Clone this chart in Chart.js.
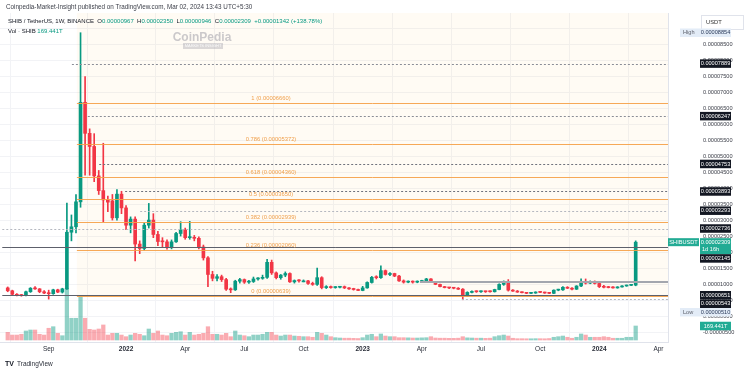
<!DOCTYPE html>
<html><head><meta charset="utf-8">
<script src="https://cdn.jsdelivr.net/npm/chart.js@4.4.1/dist/chart.umd.min.js"></script>
<style>html,body{margin:0;padding:0;background:#fff;}#wrap{width:750px;height:373px;position:relative;}</style>
</head><body><div id="wrap"><canvas id="c" width="750" height="373"></canvas></div>
<script>
// Prices are in units of 1e-6 USDT (0.00000870 -> 8.70); volumes in trillions (T)
const firstWeek = '2021-07-05';
const refWeek = '2022-01-03';
const opens = [
 8.8, 7.9, 6.8, 6.5, 6.4, 7.6, 8.7, 8.5, 7.6, 7.2,
 7.0, 8.2, 7.5, 8.5, 26.2, 27.9, 35.7, 66.8, 57.1, 53.0,
 43.8, 39.2, 36.3, 36.0, 30.7, 38.1, 33.8, 28.4, 30.3, 22.5,
 21.1, 28.4, 30.0, 25.5, 23.3, 23.2, 21.5, 23.2, 25.8, 26.9,
 24.5, 24.6, 24.3, 21.6, 18.2, 13.0, 11.8, 12.3, 11.4, 8.4,
 8.2, 10.9, 11.4, 10.6, 10.8, 11.6, 11.8, 12.1, 16.8, 13.5,
 12.0, 12.8, 13.3, 10.7, 11.1, 11.0, 11.0, 10.2, 9.9, 12.0,
 8.9, 9.1, 8.9, 9.0, 9.2, 8.8, 8.5, 8.3, 8.0, 8.8,
 10.5, 12.1, 12.0, 14.2, 13.0, 13.3, 12.5, 11.0, 10.6, 10.7,
 10.6, 10.8, 10.9, 11.6, 10.5, 9.9, 9.2, 8.9, 8.8, 8.7,
 8.4, 6.3, 7.4, 7.7, 7.6, 7.7, 7.7, 7.6, 8.3, 9.9,
 10.7, 8.1, 7.8, 7.5, 7.3, 7.1, 7.2, 7.5, 7.4, 7.2,
 7.1, 8.1, 8.2, 9.0, 8.7, 8.4, 9.4, 10.4, 10.3, 10.8,
 10.2, 9.2, 9.0, 8.9, 8.8, 9.1, 9.4, 9.6, 9.67
];
const highs = [
 9.1, 8.1, 7.0, 6.8, 7.8, 8.9, 9.2, 8.6, 8.0, 8.1,
 8.4, 8.4, 8.7, 35.3, 31.6, 38.0, 88.54, 74.8, 58.5, 57.0,
 45.5, 54.0, 37.5, 38.0, 39.5, 39.0, 34.5, 31.0, 31.0, 23.5,
 29.0, 35.2, 32.0, 26.5, 24.5, 23.8, 23.8, 26.2, 29.5, 27.5,
 29.6, 25.2, 24.8, 22.2, 18.6, 14.0, 13.0, 12.8, 11.8, 8.8,
 11.2, 11.8, 11.6, 11.2, 12.2, 12.0, 12.8, 17.7, 17.5, 13.8,
 13.0, 13.8, 13.5, 11.3, 11.4, 11.3, 11.2, 10.6, 15.0, 12.3,
 9.5, 9.4, 9.2, 9.3, 9.4, 8.9, 8.7, 8.4, 9.3, 10.7,
 12.4, 12.6, 15.7, 14.4, 13.6, 13.4, 12.7, 11.3, 11.0, 11.0,
 11.0, 11.2, 11.8, 11.7, 10.6, 10.0, 9.3, 9.0, 8.9, 8.9,
 8.6, 7.6, 7.9, 7.9, 7.9, 7.8, 7.9, 8.4, 10.1, 11.0,
 11.4, 8.3, 8.0, 7.6, 7.4, 7.3, 7.6, 7.6, 7.5, 7.4,
 8.2, 8.4, 9.2, 9.2, 8.9, 9.5, 11.6, 11.6, 11.0, 11.0,
 10.6, 9.6, 9.3, 9.2, 9.2, 9.5, 9.7, 9.8, 23.50
];
const lows = [
 7.6, 6.6, 6.3, 6.2, 6.3, 7.4, 8.3, 7.3, 7.0, 5.3,
 6.8, 7.3, 7.2, 8.3, 23.5, 26.0, 34.0, 44.0, 44.0, 42.0,
 38.0, 29.5, 32.6, 30.0, 30.0, 32.0, 27.0, 26.0, 17.2, 19.5,
 20.6, 27.5, 24.5, 22.0, 21.5, 20.9, 21.0, 23.0, 25.0, 24.0,
 24.0, 23.5, 21.0, 17.5, 9.2, 11.0, 11.0, 10.8, 8.0, 7.3,
 8.0, 10.3, 10.2, 10.2, 10.5, 11.2, 11.5, 11.8, 13.0, 11.6,
 11.5, 12.3, 10.5, 10.3, 10.6, 10.7, 9.9, 9.6, 9.6, 8.5,
 8.6, 8.7, 8.7, 8.8, 8.6, 8.3, 8.1, 7.9, 7.9, 8.7,
 10.3, 11.6, 11.8, 12.8, 12.6, 12.3, 10.8, 10.3, 10.4, 10.3,
 10.4, 10.6, 10.8, 10.4, 9.8, 9.1, 8.8, 8.6, 8.5, 8.3,
 5.10, 6.2, 7.2, 7.4, 7.4, 7.4, 7.5, 7.5, 8.2, 9.6,
 7.8, 7.7, 7.4, 7.2, 7.0, 7.0, 7.1, 7.3, 7.1, 7.0,
 7.0, 7.9, 8.0, 8.6, 8.2, 8.3, 9.2, 10.0, 10.1, 10.0,
 8.9, 8.8, 8.8, 8.7, 8.7, 9.0, 9.3, 9.5, 9.46
];
const closes = [
 7.9, 6.8, 6.5, 6.4, 7.6, 8.7, 8.5, 7.6, 7.2, 7.0,
 8.2, 7.5, 8.5, 26.2, 27.9, 35.7, 66.8, 57.1, 53.0, 43.8,
 39.2, 36.3, 35.6, 30.7, 38.1, 33.8, 28.4, 30.3, 22.5, 21.1,
 28.4, 30.0, 25.5, 23.3, 23.2, 21.5, 23.2, 25.8, 26.9, 24.5,
 24.6, 24.3, 21.6, 18.2, 13.0, 11.8, 12.3, 11.4, 8.4, 8.2,
 10.9, 11.4, 10.6, 10.8, 11.6, 11.8, 12.1, 16.8, 13.5, 12.0,
 12.8, 13.3, 10.7, 11.1, 11.0, 11.0, 10.2, 9.9, 12.0, 8.9,
 9.1, 8.9, 9.0, 9.2, 8.8, 8.5, 8.3, 8.0, 8.8, 10.5,
 12.1, 12.0, 14.2, 13.0, 13.3, 12.5, 11.0, 10.6, 10.7, 10.6,
 10.8, 10.9, 11.6, 10.5, 9.9, 9.2, 8.9, 8.8, 8.7, 8.4,
 6.3, 7.4, 7.7, 7.6, 7.7, 7.6, 7.6, 8.3, 9.9, 10.7,
 8.1, 7.8, 7.5, 7.3, 7.1, 7.2, 7.5, 7.4, 7.2, 7.1,
 8.1, 8.2, 9.0, 8.7, 8.4, 9.4, 10.4, 10.3, 10.8, 10.2,
 9.2, 9.0, 8.9, 8.8, 9.1, 9.4, 9.6, 9.67, 23.09
];
const volumes = [
 93, 60, 60, 69, 109, 121, 121, 69, 60, 142,
 161, 81, 52, 626, 263, 263, 524, 263, 129, 121,
 133, 182, 60, 81, 81, 60, 40, 60, 81, 69,
 52, 133, 81, 109, 60, 52, 81, 93, 100, 60,
 93, 60, 69, 81, 161, 69, 69, 60, 81, 40,
 109, 60, 52, 40, 60, 60, 69, 93, 93, 60,
 48, 60, 60, 48, 45, 40, 40, 33, 93, 81,
 60, 40, 28, 24, 22, 22, 20, 18, 28, 60,
 69, 40, 73, 48, 40, 40, 28, 28, 26, 24,
 24, 26, 28, 40, 24, 22, 22, 20, 20, 22,
 40, 26, 24, 22, 22, 20, 22, 40, 52, 60,
 48, 21, 16, 16, 15, 15, 16, 16, 15, 18,
 33, 40, 48, 33, 21, 33, 73, 60, 33, 33,
 33, 40, 33, 21, 21, 21, 33, 33, 169.441
];
const tickDates = ['2021-09-06','2022-01-03','2022-04-04','2022-07-04','2022-10-03','2023-01-02','2023-04-03','2023-07-03','2023-10-02','2024-01-01','2024-04-01'];
const tickLabels = ['Sep','2022','Apr','Jul','Oct','2023','Apr','Jul','Oct','2024','Apr'];
const fibRatios = ['1','0.786','0.618','0.5','0.382','0.236','0'];
const fibLevels = [66.60, 53.72, 43.60, 36.50, 29.39, 20.60, 6.39];
const markedPrices = [78.89, 62.47, 47.53, 38.93, 32.93, 27.36, 21.45, 6.51, 5.43];
const lastPrice = 23.09, allTimeHigh = 88.54, allTimeLow = 5.10, lastVolume = 169.441;

const UP = '#089981', DOWN = '#f23645';
const UPV = 'rgba(8,153,129,0.45)', DOWNV = 'rgba(242,54,69,0.42)';
const WEEK = 7 * 864e5;
const wk = d => Math.round((Date.parse(d) - Date.parse(refWeek)) / WEEK);
const x0 = wk(firstWeek);
const tickWeeks = tickDates.map(wk);
const fmt = v => (v * 1e-6).toFixed(8);
const FONT = "'Liberation Sans', Arial, sans-serif";
const isUp = i => closes[i] >= opens[i];

const bodies = opens.map((o, i) => ({x: x0 + i, y: [o, closes[i]]}));
const wicks = opens.map((o, i) => ({x: x0 + i, y: [lows[i], highs[i]]}));
const vols = volumes.map((v, i) => ({x: x0 + i, y: v}));

const overlay = {
  id: 'overlay',
  beforeDatasetsDraw(chart) {
    const {ctx, chartArea: a, scales: {x, y}} = chart;
    ctx.save();
    ctx.fillStyle = 'rgba(255,152,0,0.045)';
    const fx = x.getPixelForValue(-10.8);
    ctx.fillRect(fx, a.top, a.right - fx, y.getPixelForValue(fibLevels[6]) - a.top);
    ctx.restore();
  },
  afterDatasetsDraw(chart) {
    const {ctx, chartArea: a, scales: {x, y}} = chart;
    ctx.save();
    ctx.beginPath(); ctx.rect(a.left, a.top, a.right - a.left, a.bottom - a.top); ctx.clip();
    const hline = (v, fromW, color, w, dash) => {
      const py = Math.round(y.getPixelForValue(v)) + (w % 2 ? 0.5 : 0);
      ctx.strokeStyle = color; ctx.lineWidth = w; ctx.setLineDash(dash || []);
      ctx.beginPath(); ctx.moveTo(x.getPixelForValue(fromW), py); ctx.lineTo(a.right, py); ctx.stroke();
    };
    const rayStarts = [-11.9, -8.4, -5.9, -0.2, 3.1, -27.2];
    const rayColors = ['#8a8d96', '#8a8d96', '#6f727c', '#6f727c', '#b5b8c0', '#b5b8c0'];
    for (let i = 0; i < 6; i++) hline(markedPrices[i], rayStarts[i], rayColors[i], 1, [2, 2]);
    hline(markedPrices[6], -27.2, '#5d606b', 1);
    hline(markedPrices[7], -27.2, '#5d606b', 1);
    hline(10.5, 64.6, '#a3a6ae', 2);
    hline(markedPrices[8], 73.8, '#b5b8c0', 1, [2, 2]);
    const fx = x.getPixelForValue(-10.8);
    ctx.setLineDash([]);
    fibLevels.forEach((v, i) => {
      const py = Math.round(y.getPixelForValue(v)) + 0.5;
      ctx.strokeStyle = 'rgba(245,160,70,0.9)'; ctx.lineWidth = 1;
      ctx.beginPath(); ctx.moveTo(fx, py); ctx.lineTo(a.right, py); ctx.stroke();
      ctx.fillStyle = '#f0a04b'; ctx.font = '5.8px ' + FONT;
      ctx.textAlign = 'center'; ctx.textBaseline = 'middle';
      ctx.fillText(fibRatios[i] + ' (' + fmt(v) + ')', 271, py - 5.5);
    });
    ctx.restore();
  },
  afterDraw(chart) {
    const {ctx, chartArea: a, scales: {y, yv}} = chart;
    ctx.save();
    ctx.textBaseline = 'middle'; ctx.textAlign = 'left';
    ctx.font = '6.3px ' + FONT;
    ctx.fillStyle = '#3b3e48';
    ctx.fillText('Coinpedia-Market-Insight published on TradingView.com, Mar 02, 2024 13:43 UTC+5:30', 6, 7.5);
    ctx.font = '6px ' + FONT;
    let cx = 8;
    const seg = (t, c) => { ctx.fillStyle = c; ctx.fillText(t, cx, 21); cx += ctx.measureText(t).width; };
    seg('SHIB / TetherUS, 1W, BINANCE  ', '#131722');
    const i = opens.length - 1;
    seg('O', '#131722'); seg(fmt(opens[i]) + '  ', UP);
    seg('H', '#131722'); seg(fmt(highs[i]) + '  ', UP);
    seg('L', '#131722'); seg(fmt(lows[i]) + '  ', UP);
    seg('C', '#131722'); seg(fmt(closes[i]) + '  ', UP);
    seg('+' + fmt(closes[i] - opens[i]) + ' (+138.78%)', UP);
    ctx.fillStyle = '#131722'; ctx.fillText('Vol · SHIB', 8, 31);
    ctx.fillStyle = UP; ctx.fillText(lastVolume.toFixed(3) + 'T', 8 + ctx.measureText('Vol · SHIB ').width, 31);
    ctx.textAlign = 'center';
    ctx.font = 'bold 12px ' + FONT; ctx.fillStyle = 'rgba(140,140,150,0.45)';
    ctx.fillText('CoinPedia', 202, 38);
    ctx.fillStyle = 'rgba(150,150,160,0.35)'; ctx.fillRect(183, 43, 40, 6);
    ctx.font = '4px ' + FONT; ctx.fillStyle = 'rgba(255,255,255,0.9)';
    ctx.fillText('MARKETS INSIGHT', 203, 46.2);
    ctx.fillStyle = '#fff'; ctx.strokeStyle = '#e0e3eb'; ctx.lineWidth = 1;
    ctx.fillRect(701, 15, 42, 14); ctx.strokeRect(701.5, 15.5, 42, 14);
    ctx.fillStyle = '#333'; ctx.textAlign = 'left'; ctx.font = '5.8px ' + FONT;
    ctx.fillText('USDT', 706, 22.5);
    const H = 8.5;
    const labels = [];
    labels.push({y: y.getPixelForValue(allTimeHigh), h: H, kind: 'high', text: fmt(allTimeHigh)});
    for (let k = 0; k < 6; k++) labels.push({y: y.getPixelForValue(markedPrices[k]), h: H, kind: 'dark', text: fmt(markedPrices[k])});
    labels.push({y: y.getPixelForValue(lastPrice), h: 16, off: 4, kind: 'last', text: fmt(lastPrice)});
    labels.push({y: y.getPixelForValue(markedPrices[6]), h: H, kind: 'dark', text: fmt(markedPrices[6])});
    labels.push({y: y.getPixelForValue(markedPrices[7]), h: H, kind: 'dark', text: fmt(markedPrices[7])});
    labels.push({y: y.getPixelForValue(markedPrices[8]), h: H, kind: 'dark', text: fmt(markedPrices[8])});
    labels.push({y: y.getPixelForValue(allTimeLow), h: H, kind: 'low', text: fmt(allTimeLow)});
    labels.push({y: yv.getPixelForValue(lastVolume), h: H, kind: 'vol', text: lastVolume.toFixed(3) + 'T'});
    labels.sort((p, q) => p.y - q.y);
    let prevBottom = -1e9;
    labels.forEach(L => {
      let top = L.y - (L.off !== undefined ? L.off : L.h / 2);
      if (top < prevBottom) top = prevBottom;
      L.top = top; prevBottom = top + L.h;
    });
    ctx.font = '5.6px ' + FONT; ctx.textBaseline = 'middle';
    labels.forEach(L => {
      const mid = L.top + L.h / 2;
      if (L.kind === 'dark') {
        ctx.fillStyle = '#131722'; ctx.fillRect(700, L.top, 31, L.h);
        ctx.fillStyle = '#fff'; ctx.textAlign = 'center'; ctx.fillText(L.text, 715.5, mid);
      } else if (L.kind === 'high' || L.kind === 'low') {
        ctx.fillStyle = '#e3ecf7'; ctx.fillRect(680, L.top, 51, L.h);
        ctx.fillStyle = '#5d606b'; ctx.textAlign = 'left'; ctx.fillText(L.kind === 'high' ? 'High' : 'Low', 683, mid);
        ctx.fillStyle = '#2a3a5a'; ctx.textAlign = 'center'; ctx.fillText(L.text, 715.5, mid);
      } else if (L.kind === 'vol') {
        ctx.fillStyle = '#22ab94'; ctx.fillRect(700, L.top, 31, L.h);
        ctx.fillStyle = '#fff'; ctx.textAlign = 'center'; ctx.fillText(L.text, 715.5, mid);
      } else if (L.kind === 'last') {
        ctx.fillStyle = '#22ab94'; ctx.fillRect(700, L.top, 31, L.h); ctx.fillRect(668, L.top, 31, 8);
        ctx.fillStyle = '#fff'; ctx.textAlign = 'center';
        ctx.fillText('SHIBUSDT', 683.5, L.top + 4);
        ctx.fillText(L.text, 715.5, L.top + 4);
        ctx.textAlign = 'left'; ctx.fillText('1d 16h', 702, L.top + 11.5);
      }
    });
    ctx.fillStyle = '#131722'; ctx.textAlign = 'left'; ctx.textBaseline = 'middle';
    ctx.font = 'bold 7px ' + FONT; ctx.fillText('TV', 5, 364);
    ctx.font = '6.5px ' + FONT; ctx.fillStyle = '#2a2e39'; ctx.fillText('TradingView', 17, 364);
    ctx.restore();
  }
};

new Chart(document.getElementById('c'), {
  data: {
    datasets: [
      {type: 'bar', label: 'body', data: bodies, yAxisID: 'y', grouped: false, barThickness: 3, minBarLength: 1,
        backgroundColor: bodies.map((d, i) => isUp(i) ? UP : DOWN), borderWidth: 0},
      {type: 'bar', label: 'wick', data: wicks, yAxisID: 'y', grouped: false, barThickness: 1,
        backgroundColor: wicks.map((d, i) => isUp(i) ? UP : DOWN), borderWidth: 0},
      {type: 'bar', label: 'volume', data: vols, yAxisID: 'yv', grouped: false, barThickness: 3.6,
        backgroundColor: vols.map((d, i) => isUp(i) ? UPV : DOWNV), borderWidth: 0}
    ]
  },
  options: {
    responsive: false, animation: false, devicePixelRatio: 1,
    layout: {padding: {top: 13, left: 0, right: 0, bottom: 0}},
    plugins: {legend: {display: false}, tooltip: {enabled: false}},
    scales: {
      x: {
        type: 'linear', min: -27.7, max: 119.1, offset: false,
        afterBuildTicks: s => { s.ticks = tickWeeks.map(v => ({value: v})); },
        afterFit: s => { s.height = 31; s.paddingLeft = 0; s.paddingRight = 0; },
        grid: {color: '#f2f3f6', drawTicks: false, tickLength: 0},
        border: {color: '#e0e3eb'},
        ticks: {
          padding: 3, maxRotation: 0, autoSkip: false, color: '#2a2e39',
          font: c => ({family: FONT, size: 6.5, weight: /^\d{4}$/.test(tickLabels[tickWeeks.indexOf(c.tick ? c.tick.value : -999)] || '') ? 'bold' : 'normal'}),
          callback: v => tickLabels[tickWeeks.indexOf(v)] || ''
        }
      },
      y: {
        type: 'linear', position: 'right', min: -8.1, max: 94.7,
        afterBuildTicks: s => { const t = []; for (let v = -5; v <= 90; v += 5) t.push({value: v}); s.ticks = t; },
        afterFit: s => { s.width = 82; s.paddingTop = 0; s.paddingBottom = 0; },
        grid: {color: '#f2f3f6', drawTicks: false, tickLength: 0},
        border: {color: '#e0e3eb'},
        ticks: {padding: 35, color: '#3b3e48', font: {family: FONT, size: 5.6}, callback: v => fmt(v)}
      },
      yv: {type: 'linear', display: false, min: -24.2, max: 3957}
    }
  },
  plugins: [overlay]
});
</script></body></html>
